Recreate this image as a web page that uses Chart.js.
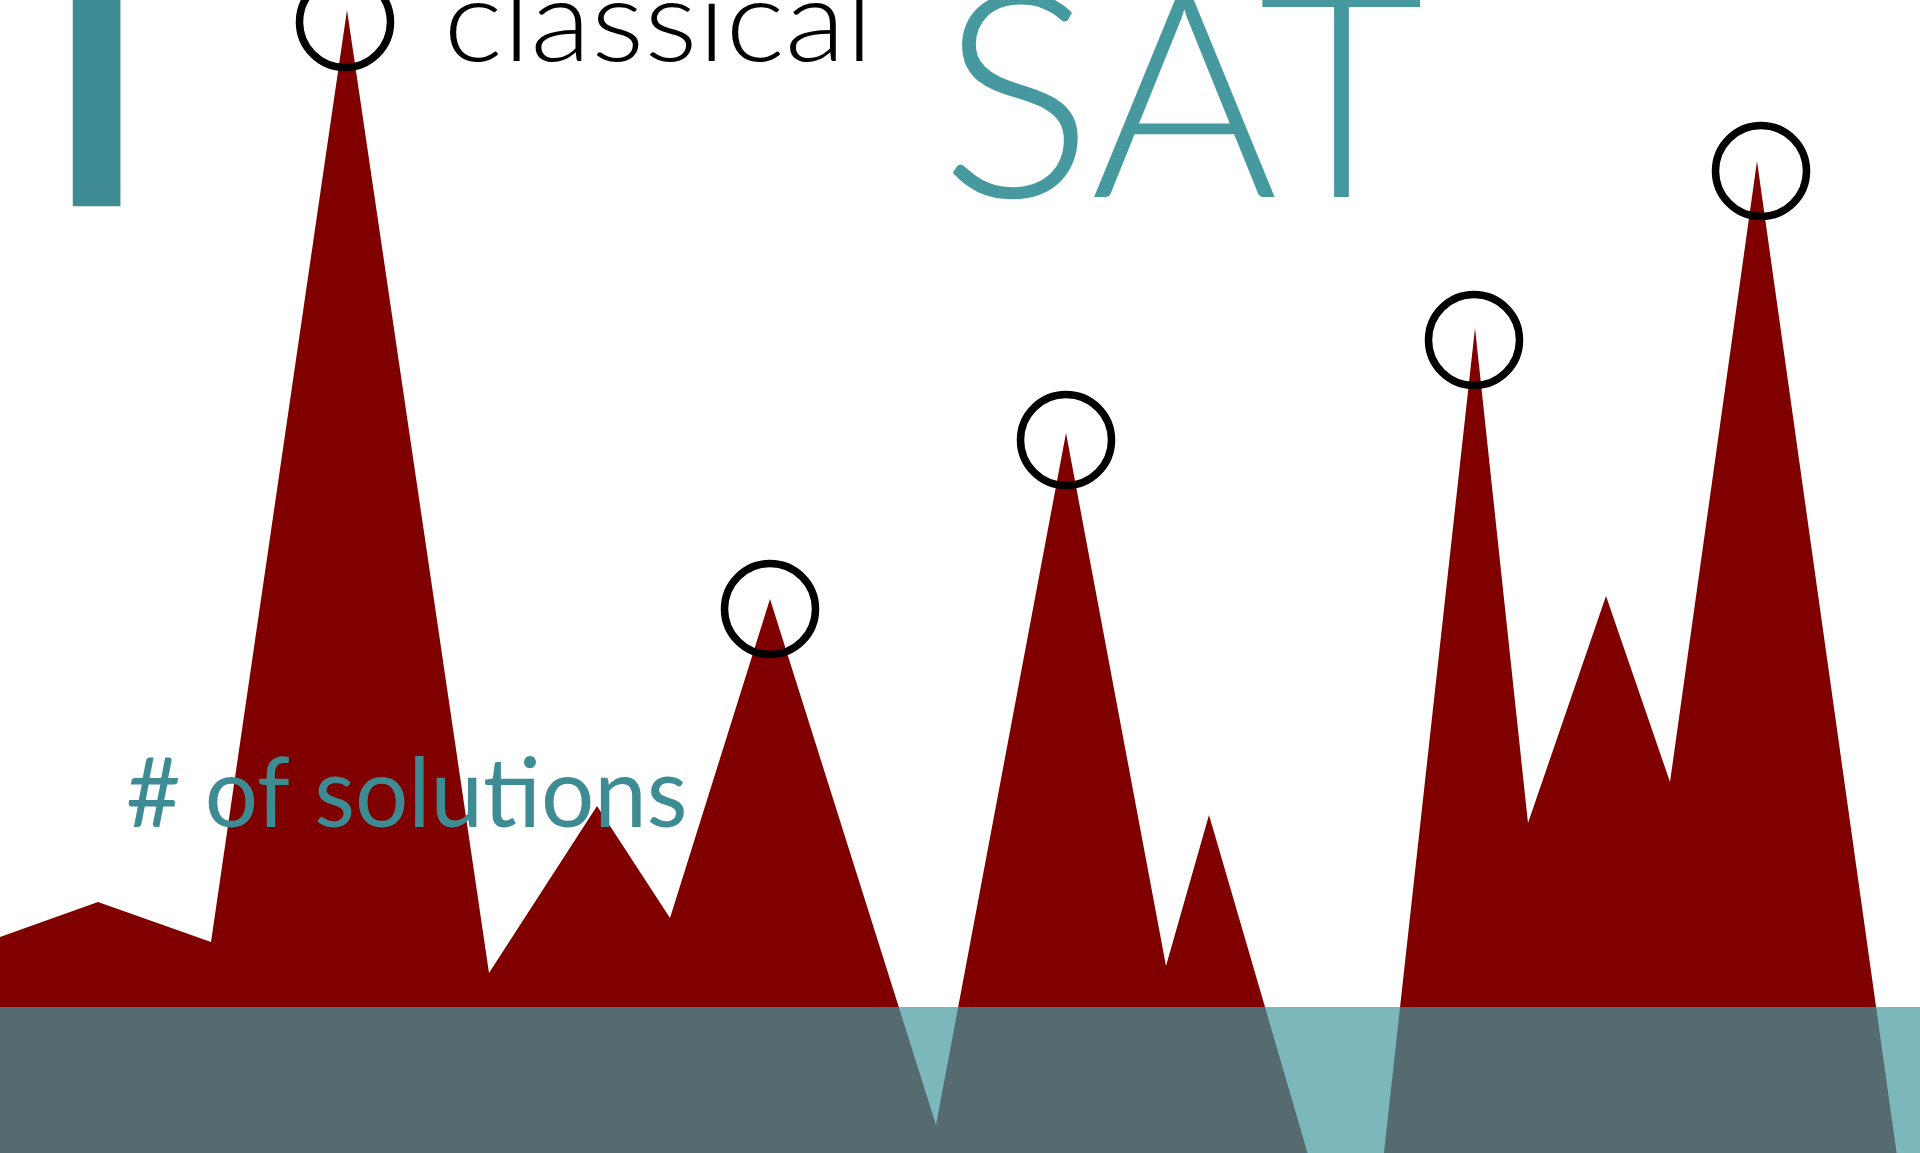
<!DOCTYPE html>
<html>
<head>
<meta charset="utf-8">
<script src="https://cdn.jsdelivr.net/npm/chart.js@4.4.1/dist/chart.umd.min.js"></script>
<style>
  html, body { margin: 0; padding: 0; background: #ffffff; overflow: hidden; }
  #wrap { position: relative; width: 1920px; height: 1153px; }
</style>
</head>
<body>
<div id="wrap"><canvas id="chart"></canvas></div>
<script>
// Profile of the solution count along the instance axis
const positions = [0, 4.9, 10.55, 17.35, 24.45, 29.85, 33.5, 38.5, 46.8, 53.3, 58.3, 60.45, 68.15, 73.75, 76.4, 80.3, 83.5, 87.85, 96];
const solutions = [7.0, 10.5, 6.5, 99.7, 3.4, 20.1, 8.9, 40.8, -11.8, 57.4, 4.1, 19.2, -33.6, 67.9, 18.4, 41.1, 22.5, 84.6, -31.2];

// Ringed peaks
const peakX = [17.25, 38.5, 53.3, 73.7, 88.05];
const peakY = [98.5, 39.8, 56.7, 66.7, 83.6];

// Threshold band (zero level, shaded down to the axis floor)
const bandX = [0, 96];
const bandLevel = [0, 0];

// Marker bar in the upper left
const markerX = [4.83];
const markerRange = [[80.1, 130]];

// Axis extents
const xRange = [0, 96];
const yRange = [-14.6, 100.7];

// Text
const titleText = 'SAT';
const seriesText = 'classical';
const axisText = '# of solutions';

const FONT = 'Lato';

// Draws a string with a given reference-glyph height, stretched so that
// its ink spans [left, right] on the given baseline
function placeText(ctx, txt, opt) {
  ctx.save();
  ctx.textAlign = 'left';
  ctx.textBaseline = 'alphabetic';
  ctx.font = opt.weight + ' 100px ' + FONT;
  const ref = ctx.measureText(opt.refGlyph).actualBoundingBoxAscent;
  const size = 100 * opt.refHeight / ref;
  ctx.font = opt.weight + ' ' + size.toFixed(2) + 'px ' + FONT;
  const m = ctx.measureText(txt);
  const ink = m.actualBoundingBoxLeft + m.actualBoundingBoxRight;
  const sx = (opt.right - opt.left) / ink;
  ctx.translate(opt.left, opt.baseline);
  ctx.scale(sx, 1);
  ctx.fillStyle = opt.color;
  ctx.fillText(txt, m.actualBoundingBoxLeft, 0);
  ctx.restore();
}

const textLayer = {
  id: 'textLayer',
  afterDraw(chart) {
    const ctx = chart.ctx;
    const a = chart.chartArea;
    placeText(ctx, seriesText, {
      left: a.left + 449, right: a.left + 863, baseline: a.top + 61,
      refGlyph: 'x', refHeight: 57, weight: 300, color: '#000000'
    });
    placeText(ctx, titleText, {
      left: a.left + 949, right: a.left + 1424, baseline: a.top + 197,
      refGlyph: 'T', refHeight: 206, weight: 300, color: '#4799a0'
    });
    placeText(ctx, axisText, {
      left: a.left + 128, right: a.left + 684, baseline: a.top + 827,
      refGlyph: 'x', refHeight: 50, weight: 400, color: '#3e8c93'
    });
  }
};

function pairs(xs, ys) {
  return xs.map((x, i) => ({ x: x, y: ys[i] }));
}

function start() {
  new Chart(document.getElementById('chart'), {
    type: 'scatter',
    data: {
      datasets: [
        {
          type: 'scatter',
          label: 'peaks',
          data: pairs(peakX, peakY),
          pointRadius: 45.5,
          pointHoverRadius: 45.5,
          pointBorderWidth: 7.5,
          pointBorderColor: '#000000',
          pointBackgroundColor: 'rgba(0,0,0,0)',
          order: 0
        },
        {
          type: 'line',
          label: 'band',
          data: pairs(bandX, bandLevel),
          fill: 'start',
          backgroundColor: 'rgba(68,153,160,0.7)',
          borderWidth: 0,
          pointRadius: 0,
          order: 1
        },
        {
          type: 'line',
          label: 'solutions',
          data: pairs(positions, solutions),
          fill: { value: -200 },
          backgroundColor: '#800000',
          borderColor: '#800000',
          borderWidth: 0,
          pointRadius: 0,
          tension: 0,
          order: 2
        },
        {
          type: 'bar',
          label: 'marker',
          data: markerX.map((x, i) => ({ x: x, y: markerRange[i] })),
          backgroundColor: '#3e8c93',
          borderWidth: 0,
          barThickness: 47,
          order: 3
        }
      ]
    },
    options: {
      responsive: true,
      maintainAspectRatio: false,
      animation: false,
      events: [],
      layout: { padding: 0, autoPadding: false },
      plugins: {
        legend: { display: false },
        tooltip: { enabled: false }
      },
      scales: {
        x: { type: 'linear', min: xRange[0], max: xRange[1], display: false, offset: false },
        y: { type: 'linear', min: yRange[0], max: yRange[1], display: false }
      }
    },
    plugins: [textLayer]
  });
}

if (document.fonts && document.fonts.load) {
  Promise.all([
    document.fonts.load('300 100px ' + FONT),
    document.fonts.load('400 100px ' + FONT)
  ]).then(start, start);
} else {
  start();
}
</script>
</body>
</html>
